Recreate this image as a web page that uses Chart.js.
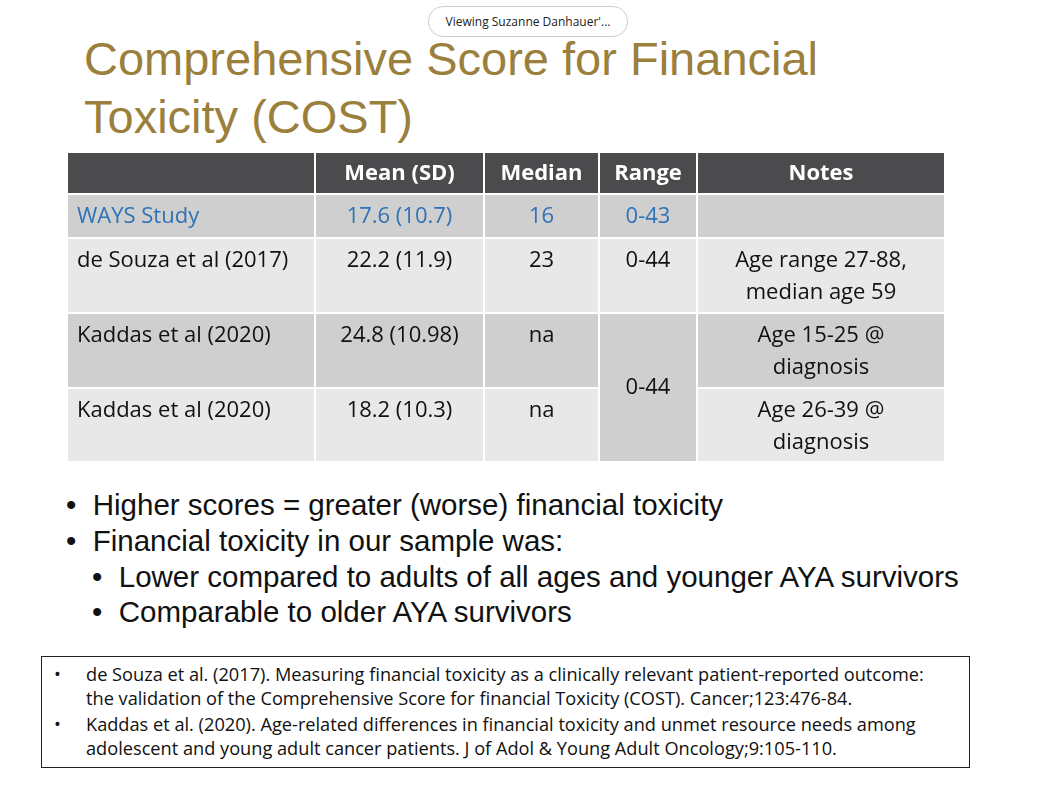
<!DOCTYPE html>
<html><head><meta charset="utf-8">
<script src="https://cdn.jsdelivr.net/npm/chart.js@4"></script>
<style>
body{margin:0;width:1047px;height:787px;background:#fff;position:relative;overflow:hidden;font-family:"Liberation Sans",Arial,sans-serif}
.pill{position:absolute;left:428px;top:6px;width:198px;height:29px;border:1px solid #ccc;border-radius:15px;font:12px "Open Sans";line-height:29px;text-align:center;color:#222;background:#fff}
h1{position:absolute;left:84px;top:30px;margin:0;font-weight:normal;font-size:47px;line-height:58px;color:#9b7f3c}
.b{position:absolute;font-size:29.5px;color:#111;white-space:nowrap}
.ref{position:absolute;left:41px;top:656px;width:929px;height:112px;border:1.5px solid #222;font:18.2px "Open Sans";color:#111;box-sizing:border-box;white-space:nowrap}
.ref div{position:absolute;left:44px;line-height:24px}
.ref span{position:absolute;left:-32px}
#wrap{position:absolute;left:67px;top:152px;width:878px;height:310px}
</style></head><body>
<div class="pill">Viewing Suzanne Danhauer'...</div>
<h1>Comprehensive Score for Financial<br>Toxicity (COST)</h1>
<div id="wrap"><canvas id="c"></canvas></div>
<div class="b" style="left:66px;top:488px">•&nbsp; Higher scores = greater (worse) financial toxicity</div>
<div class="b" style="left:66px;top:524px">•&nbsp; Financial toxicity in our sample was:</div>
<div class="b" style="left:92px;top:560px">•&nbsp; Lower compared to adults of all ages and younger AYA survivors</div>
<div class="b" style="left:92px;top:595px">•&nbsp; Comparable to older AYA survivors</div>
<div class="ref">
<div style="top:5px"><span>•</span>de Souza et al. (2017). Measuring financial toxicity as a clinically relevant patient-reported outcome:<br>the validation of the Comprehensive Score for financial Toxicity (COST). Cancer;123:476-84.</div>
<div style="top:55px"><span>•</span>Kaddas et al. (2020). Age-related differences in financial toxicity and unmet resource needs among<br>adolescent and young adult cancer patients. J of Adol &amp; Young Adult Oncology;9:105-110.</div>
</div>
<script>
const headers=["","Mean (SD)","Median","Range","Notes"];
const studies=["WAYS Study","de Souza et al (2017)","Kaddas et al (2020)","Kaddas et al (2020)"];
const means=["17.6 (10.7)","22.2 (11.9)","24.8 (10.98)","18.2 (10.3)"];
const medians=["16","23","na","na"];
const ranges=["0-43","0-44","0-44",null];
const notes=[[],["Age range 27-88,","median age 59"],["Age 15-25 @","diagnosis"],["Age 26-39 @","diagnosis"]];
const colEdges=[0,248,417,532,630,878];
const rowEdges=[0,42,86,161,236,310];

const tablePlugin={id:'table',afterDraw(ch){
 const c=ch.ctx,X=ch.scales.x,Y=ch.scales.y;
 const px=v=>X.getPixelForValue(v),py=v=>Y.getPixelForValue(v);
 const cell=(ci,ri,ri2,fill)=>{const x0=px(colEdges[ci])+1,x1=px(colEdges[ci+1])-1,y0=py(rowEdges[ri])+1,y1=py(rowEdges[ri2+1])-1;c.fillStyle=fill;c.fillRect(x0,y0,x1-x0,y1-y0);return [x0,x1,y0,y1];};
 const txt=(s,x,y,align,color,bold)=>{c.font=(bold?'bold ':'')+'22px "Open Sans"';c.fillStyle=color;c.textAlign=align;c.textBaseline='middle';c.fillText(s,x,y);};
 for(let i=0;i<5;i++){const [x0,x1,y0,y1]=cell(i,0,0,'#4b4b4d');if(headers[i])txt(headers[i],(x0+x1)/2,(y0+y1)/2+1,'center','#fff',true);}
 for(let r=0;r<4;r++){
  const fill=r%2===0?'#cfcfcf':'#e8e8e8', col=r===0?'#2e72b8':'#111';
  const ri=r+1;
  const rows=[studies[r],means[r],medians[r]];
  for(let i=0;i<3;i++){const [x0,x1,y0]=cell(i,ri,ri,fill);txt(rows[i],i===0?x0+9:(x0+x1)/2,y0+22,i===0?'left':'center',col,false);}
  if(r<2){const [x0,x1,y0]=cell(3,ri,ri,fill);txt(ranges[r],(x0+x1)/2,y0+22,'center',col,false);}
  else if(r===2){const [x0,x1,y0,y1]=cell(3,ri,ri+1,'#cfcfcf');txt(ranges[r],(x0+x1)/2,(y0+y1)/2,'center',col,false);}
  const [x0,x1,y0]=cell(4,ri,ri,fill);
  notes[r].forEach((s,k)=>txt(s,(x0+x1)/2,y0+22+k*32,'center',col,false));
 }
}};
new Chart(document.getElementById('c'),{type:'scatter',data:{datasets:[]},
 options:{responsive:true,maintainAspectRatio:false,animation:false,layout:{padding:0},
  plugins:{legend:{display:false},tooltip:{enabled:false}},
  scales:{x:{type:'linear',min:0,max:878,display:false},y:{type:'linear',min:0,max:310,reverse:true,display:false}}},
 plugins:[tablePlugin]});
</script>
</body></html>
